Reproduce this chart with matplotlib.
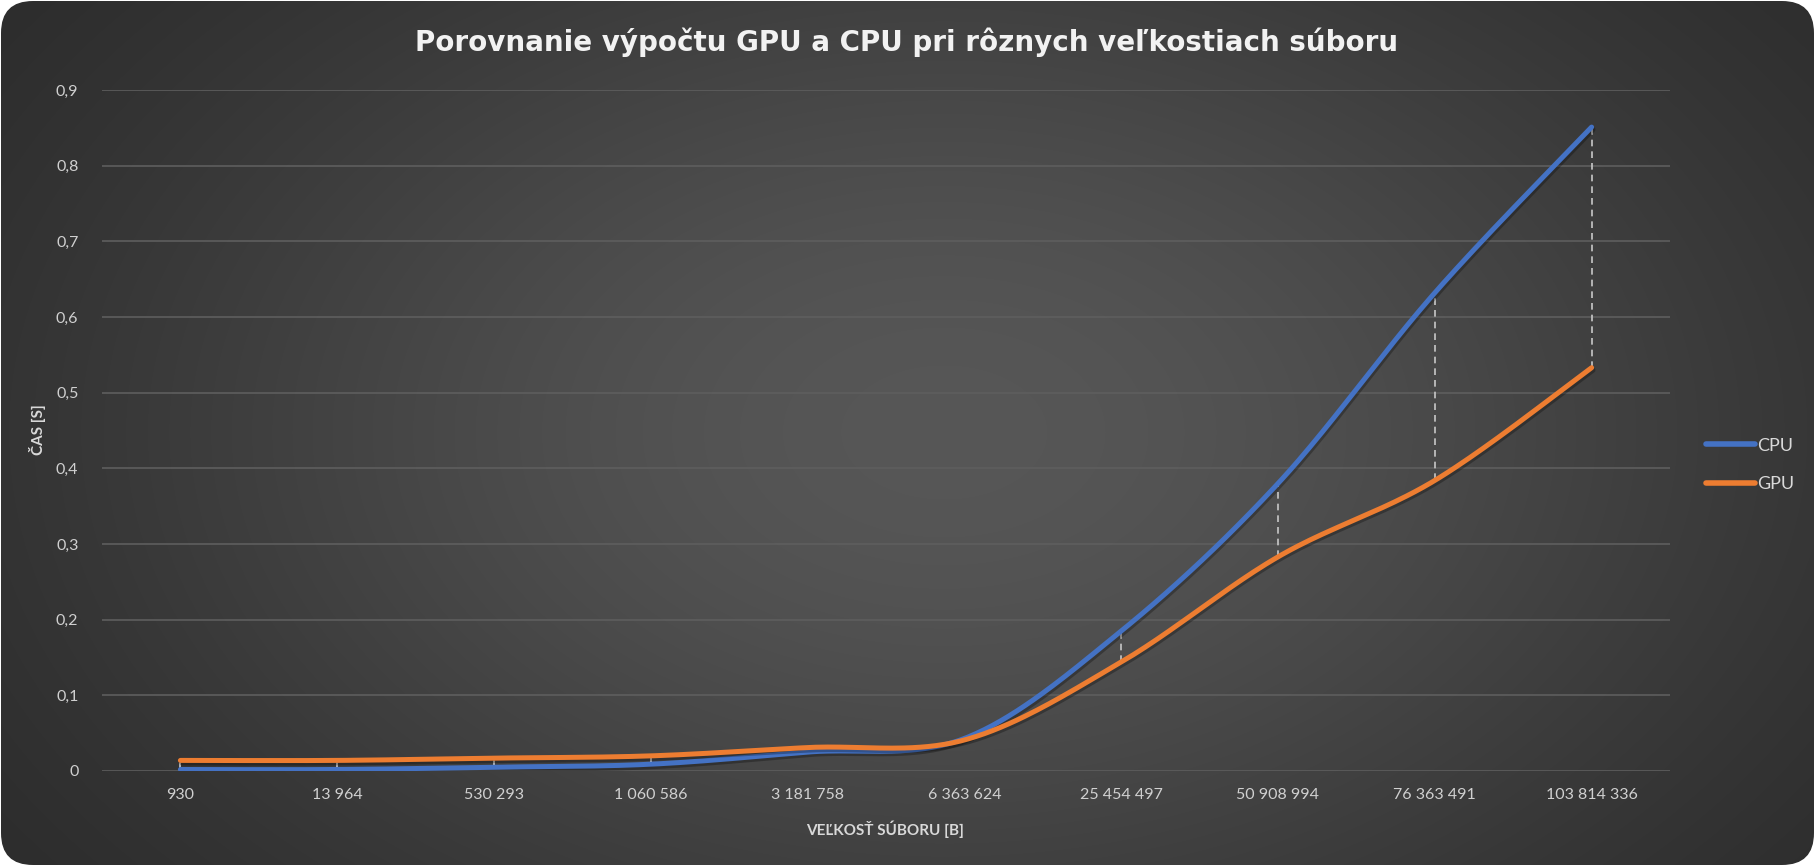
import numpy as np
import matplotlib
matplotlib.use("Agg")
import matplotlib.pyplot as plt
from matplotlib.patches import FancyBboxPatch
from matplotlib.lines import Line2D
import matplotlib.patheffects as pe

# ---- data ----
categories = ["930", "13 964", "530 293", "1 060 586", "3 181 758", "6 363 624",
              "25 454 497", "50 908 994", "76 363 491", "103 814 336"]
cpu_times = [0.002, 0.002, 0.005, 0.009, 0.025, 0.043, 0.185, 0.380, 0.632, 0.851]
gpu_times = [0.014, 0.014, 0.017, 0.020, 0.031, 0.041, 0.144, 0.283, 0.384, 0.533]
y_ticks = [0, 0.1, 0.2, 0.3, 0.4, 0.5, 0.6, 0.7, 0.8, 0.9]
title = "Porovnanie výpočtu GPU a CPU pri rôznych veľkostiach súboru"
xlabel = "VEĽKOSŤ SÚBORU [B]"
ylabel = "ČAS [S]"

W, H = 1815, 866
fig = plt.figure(figsize=(W / 100, H / 100), dpi=100, facecolor="white")

# ---- background with gradient and rounded corners ----
bg = fig.add_axes([0, 0, 1, 1])
bg.set_xlim(0, W)
bg.set_ylim(0, H)
bg.axis("off")
yy, xx = np.mgrid[0:H, 0:W]
dx = (xx - 0.52 * W) / (0.55 * W)
dy = (yy - 0.5 * H) / (0.75 * H)
r2 = dx ** 2 + dy ** 2
v = 0.14 + (0.34 - 0.14) * np.exp(-r2 * 1.3)
img = np.dstack([v, v, v])
im = bg.imshow(img, extent=(0, W, 0, H), origin="lower", aspect="auto")
clip = FancyBboxPatch((1, 1), W - 2, H - 2, boxstyle="round,pad=0,rounding_size=32",
                      transform=bg.transData, facecolor="none", edgecolor="none")
bg.add_patch(clip)
im.set_clip_path(clip)

# ---- main axes ----
left, right = 102 / W, 1670 / W
bottom, top = 1 - 771 / H, 1 - 90 / H
ax = fig.add_axes([left, bottom, right - left, top - bottom])
ax.set_facecolor("none")
for s in ax.spines.values():
    s.set_visible(False)

n = len(categories)
x = np.arange(n)
ax.set_xlim(-0.5, n - 0.5)
ax.set_ylim(0, 0.9)
ax.set_yticks(y_ticks)
ax.set_yticklabels([("%g" % t).replace(".", ",") for t in y_ticks])
ax.set_xticks(x)
ax.set_xticklabels(categories)
ax.yaxis.grid(True, color="#5e5e5e", linewidth=1.2)
ax.set_axisbelow(True)
tick_font = ["Lato", "DejaVu Sans"]
ax.tick_params(axis="both", length=0, colors="#d0d0d0", labelsize=11.5)
ax.tick_params(axis="y", pad=17)
ax.tick_params(axis="x", pad=12)
for lab in ax.get_xticklabels() + ax.get_yticklabels():
    lab.set_fontfamily(tick_font)

# pixel scale for smoothing (Excel-like Catmull-Rom in screen space)
ax_w_px = (right - left) * W
ax_h_px = (top - bottom) * H
sx = ax_w_px / n
sy = ax_h_px / 0.9


def smooth(xs, ys, steps=40):
    P = np.column_stack([np.asarray(xs, float) * sx, np.asarray(ys, float) * sy])
    out = []
    for i in range(len(P) - 1):
        p0 = P[i - 1] if i > 0 else P[i]
        p1 = P[i]
        p2 = P[i + 1]
        p3 = P[i + 2] if i + 2 < len(P) else P[i + 1]
        c1 = p1 + (p2 - p0) / 6
        c2 = p2 - (p3 - p1) / 6
        t = np.linspace(0, 1, steps)[:, None]
        seg = ((1 - t) ** 3) * p1 + 3 * ((1 - t) ** 2) * t * c1 + 3 * (1 - t) * t ** 2 * c2 + t ** 3 * p2
        out.append(seg if i == 0 else seg[1:])
    out = np.vstack(out)
    return out[:, 0] / sx, out[:, 1] / sy


# high-low dashed lines
for xi, c, g in zip(x, cpu_times, gpu_times):
    ax.plot([xi, xi], [min(c, g), max(c, g)], color="#c8c8c8", linewidth=1.2,
            linestyle=(0, (4, 3)), zorder=2)

shadow = [pe.SimpleLineShadow(offset=(1.0, -1.8), shadow_color="black", alpha=0.28), pe.Normal()]
cx, cy = smooth(x, cpu_times)
gx, gy = smooth(x, gpu_times)
ax.plot(cx, cy, color="#4472C4", linewidth=3.6, solid_capstyle="round", zorder=3,
        path_effects=shadow, label="CPU")
ax.plot(gx, gy, color="#ED7D31", linewidth=3.6, solid_capstyle="round", zorder=4,
        path_effects=shadow, label="GPU")

# legend
handles = [Line2D([], [], color="#4472C4", linewidth=4, solid_capstyle="round"),
           Line2D([], [], color="#ED7D31", linewidth=4, solid_capstyle="round")]
leg = fig.legend(handles, ["CPU", "GPU"], loc="center left",
                 bbox_to_anchor=(1690 / W, 1 - 465 / H), frameon=False,
                 handlelength=2.7, handletextpad=0.1, labelspacing=1.25,
                 prop={"family": tick_font, "size": 13})
for t in leg.get_texts():
    t.set_color("#d9d9d9")

# titles
fig.text(907 / W, 1 - 42 / H, title, ha="center", va="center", color="#f2f2f2",
         fontsize=20, fontweight="bold", family=["DejaVu Sans"])
fig.text(885 / W, 1 - 829 / H, xlabel, ha="center", va="center", color="#d9d9d9",
         fontsize=11, fontweight="bold", family=tick_font)
fig.text(38 / W, 1 - 430 / H, ylabel, ha="center", va="center", color="#d9d9d9",
         fontsize=11, fontweight="bold", rotation=90, family=tick_font)

fig.savefig("out.png", dpi=100, facecolor="white")
